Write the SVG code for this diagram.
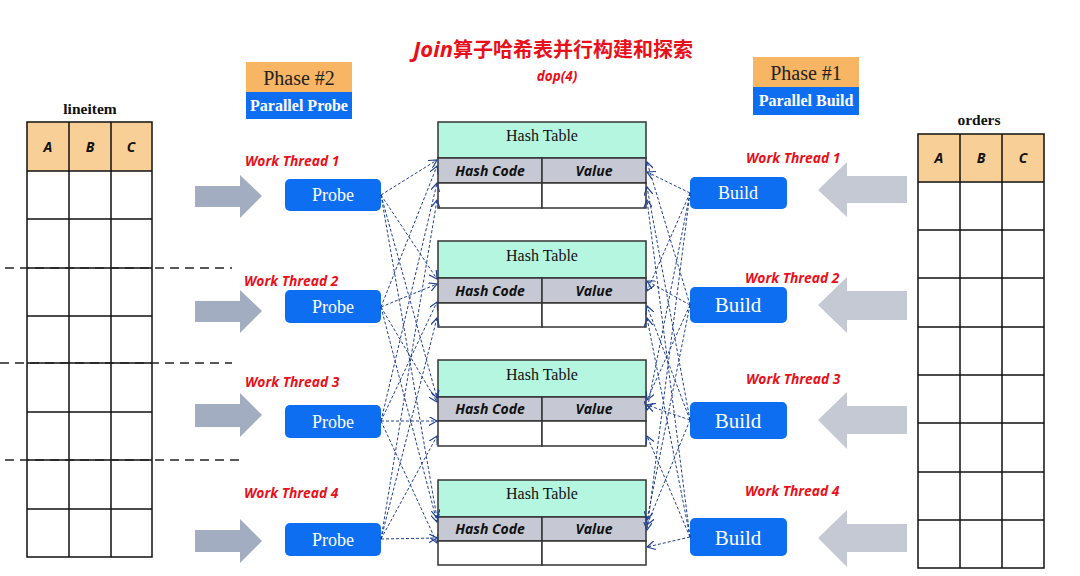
<svg xmlns="http://www.w3.org/2000/svg" width="1080" height="576" viewBox="0 0 1080 576">
<defs>
<marker id="ah" viewBox="0 0 10 10" refX="9" refY="5" markerWidth="9" markerHeight="9" markerUnits="userSpaceOnUse" orient="auto">
<path d="M0,0 L9,5 L0,10" fill="none" stroke="#1f3f8f" stroke-width="1.3"/>
</marker>
</defs>
<style>
.red{fill:#e8101a;font-family:"Open Sans","DejaVu Sans",sans-serif;font-style:italic;font-weight:bold}
.wt{font-size:13.8px}
.ser{font-family:"Liberation Serif","Times New Roman",serif}
.grid{fill:none;stroke:#111;stroke-width:1.5}
.hdr{fill:#f9cf98}
.abc{font-family:"Open Sans","DejaVu Sans",sans-serif;font-style:italic;font-weight:bold;font-size:14px;fill:#111;text-anchor:middle}
.btn{fill:#0d6ef2}
.btxt{fill:#fff;text-anchor:middle;font-family:"Liberation Serif",serif}
.ht-h{fill:#b5f6e1;stroke:#333;stroke-width:1.5}
.ht-g{fill:#c6c9d4;stroke:#333;stroke-width:1.5}
.ht-w{fill:#fff;stroke:#333;stroke-width:1.5}
.htt{font-family:"Liberation Serif",serif;font-size:16px;fill:#111;text-anchor:middle}
.hc{font-family:"Open Sans","DejaVu Sans",sans-serif;font-style:italic;font-weight:bold;font-size:14px;fill:#111;text-anchor:middle}
.conn line{stroke:#1f3f8f;stroke-width:1;stroke-dasharray:3,2;marker-end:url(#ah)}
.dash{stroke:#222;stroke-width:1.5;stroke-dasharray:9,6}
.larr{fill:#a3adc1}
.rarr{fill:#c4c9d4}
</style>
<rect width="1080" height="576" fill="#fff"/>

<g id="title">
<text x="553" y="57" text-anchor="middle" font-size="20" fill="#e8101a" font-weight="bold" font-family="'Noto Sans CJK SC',sans-serif"><tspan font-style="italic" font-size="22" font-family="'Open Sans','Noto Sans CJK SC',sans-serif">Join</tspan>算子哈希表并行构建和探索</text>
<text x="557" y="81" text-anchor="middle" class="red" font-size="13.5">dop(4)</text>
</g>

<g id="phase2">
<rect x="246" y="62" width="106" height="30" fill="#f8b563"/>
<rect x="246" y="92" width="106" height="27" fill="#0d6ef2"/>
<text x="299" y="85" text-anchor="middle" class="ser" font-size="20" fill="#222">Phase #2</text>
<text x="299" y="111" text-anchor="middle" class="ser" font-size="16" font-weight="bold" fill="#fff">Parallel Probe</text>
</g>
<g id="phase1">
<rect x="753" y="57" width="106" height="30" fill="#f8b563"/>
<rect x="753" y="87" width="106" height="28" fill="#0d6ef2"/>
<text x="806" y="80" text-anchor="middle" class="ser" font-size="20" fill="#222">Phase #1</text>
<text x="806" y="106" text-anchor="middle" class="ser" font-size="16" font-weight="bold" fill="#fff">Parallel Build</text>
</g>

<g id="lineitem">
<text x="90" y="114" text-anchor="middle" class="ser" font-size="15.5" font-weight="bold" fill="#111">lineitem</text>
<rect x="27" y="122" width="125" height="49" class="hdr"/>
<path class="grid" d="M27,122 H152 V557 H27 Z M69,122 V557 M111,122 V557 M27,171 H152 M27,219 H152 M27,268 H152 M27,316 H152 M27,363 H152 M27,412 H152 M27,460 H152 M27,509 H152"/>
<text x="48" y="152" class="abc">A</text>
<text x="90" y="152" class="abc">B</text>
<text x="131" y="152" class="abc">C</text>
<line x1="5" y1="268" x2="232" y2="268" class="dash"/>
<line x1="0" y1="363" x2="232" y2="363" class="dash"/>
<line x1="5" y1="460" x2="240" y2="460" class="dash"/>
</g>

<g id="orders">
<text x="979" y="125" text-anchor="middle" class="ser" font-size="15.5" font-weight="bold" fill="#111">orders</text>
<rect x="918" y="134" width="126" height="48" class="hdr"/>
<path class="grid" d="M918,134 H1044 V568 H918 Z M960,134 V568 M1002,134 V568 M918,182 H1044 M918,230 H1044 M918,278 H1044 M918,327 H1044 M918,375 H1044 M918,423 H1044 M918,472 H1044 M918,520 H1044"/>
<text x="939" y="163" class="abc">A</text>
<text x="981" y="163" class="abc">B</text>
<text x="1023" y="163" class="abc">C</text>
</g>

<g id="left-arrows">
<polygon class="larr" points="195,186 240,186 240,175 262,196 240,218 240,207 195,207"/>
<polygon class="larr" points="195,301 240,301 240,290 262,311 240,333 240,322 195,322"/>
<polygon class="larr" points="195,404 240,404 240,393 262,415 240,437 240,427 195,427"/>
<polygon class="larr" points="195,530 240,530 240,519 262,541 240,563 240,552 195,552"/>
</g>
<g id="right-arrows">
<polygon class="rarr" points="907,176 847,176 847,162 818,190 847,217 847,203 907,203"/>
<polygon class="rarr" points="907,291 847,291 847,277 818,305 847,333 847,320 907,320"/>
<polygon class="rarr" points="907,406 847,406 847,392 818,420 847,449 847,434 907,434"/>
<polygon class="rarr" points="907,524 847,524 847,510 818,538 847,567 847,552 907,552"/>
</g>

<g id="probe-labels">
<text x="245" y="166" class="red wt">Work Thread 1</text>
<text x="244" y="286" class="red wt">Work Thread 2</text>
<text x="245" y="387" class="red wt">Work Thread 3</text>
<text x="244" y="498" class="red wt">Work Thread 4</text>
</g>
<g id="build-labels">
<text x="746" y="163" class="red wt">Work Thread 1</text>
<text x="745" y="283" class="red wt">Work Thread 2</text>
<text x="746" y="384" class="red wt">Work Thread 3</text>
<text x="745" y="496" class="red wt">Work Thread 4</text>
</g>

<g id="probe1"><rect x="285" y="179" width="96" height="32" rx="5" class="btn"/><text x="333" y="201" class="btxt" font-size="18">Probe</text></g>
<g id="probe2"><rect x="285" y="290" width="96" height="33" rx="5" class="btn"/><text x="333" y="313" class="btxt" font-size="18">Probe</text></g>
<g id="probe3"><rect x="285" y="405" width="96" height="33" rx="5" class="btn"/><text x="333" y="428" class="btxt" font-size="18">Probe</text></g>
<g id="probe4"><rect x="285" y="523" width="96" height="33" rx="5" class="btn"/><text x="333" y="546" class="btxt" font-size="18">Probe</text></g>

<g id="build1"><rect x="690" y="177" width="97" height="32" rx="5" class="btn"/><text x="738" y="199" class="btxt" font-size="18">Build</text></g>
<g id="build2"><rect x="690" y="287" width="97" height="36" rx="5" class="btn"/><text x="738" y="312" class="btxt" font-size="21">Build</text></g>
<g id="build3"><rect x="690" y="402" width="97" height="37" rx="5" class="btn"/><text x="738" y="428" class="btxt" font-size="21">Build</text></g>
<g id="build4"><rect x="690" y="518" width="97" height="38" rx="5" class="btn"/><text x="738" y="545" class="btxt" font-size="21">Build</text></g>

<g id="hashtable1">
<rect x="438" y="122" width="208" height="36" class="ht-h"/>
<rect x="438" y="158" width="104" height="25" class="ht-g"/><rect x="542" y="158" width="104" height="25" class="ht-g"/>
<rect x="438" y="183" width="104" height="25" class="ht-w"/><rect x="542" y="183" width="104" height="25" class="ht-w"/>
<text x="542" y="141" class="htt">Hash Table</text>
<text x="490" y="176" class="hc">Hash Code</text><text x="594" y="176" class="hc">Value</text>
</g>
<g id="hashtable2">
<rect x="438" y="241" width="208" height="37" class="ht-h"/>
<rect x="438" y="278" width="104" height="25" class="ht-g"/><rect x="542" y="278" width="104" height="25" class="ht-g"/>
<rect x="438" y="303" width="104" height="24" class="ht-w"/><rect x="542" y="303" width="104" height="24" class="ht-w"/>
<text x="542" y="261" class="htt">Hash Table</text>
<text x="490" y="296" class="hc">Hash Code</text><text x="594" y="296" class="hc">Value</text>
</g>
<g id="hashtable3">
<rect x="438" y="360" width="208" height="37" class="ht-h"/>
<rect x="438" y="397" width="104" height="24" class="ht-g"/><rect x="542" y="397" width="104" height="24" class="ht-g"/>
<rect x="438" y="421" width="104" height="25" class="ht-w"/><rect x="542" y="421" width="104" height="25" class="ht-w"/>
<text x="542" y="380" class="htt">Hash Table</text>
<text x="490" y="414" class="hc">Hash Code</text><text x="594" y="414" class="hc">Value</text>
</g>
<g id="hashtable4">
<rect x="438" y="480" width="208" height="37" class="ht-h"/>
<rect x="438" y="517" width="104" height="24" class="ht-g"/><rect x="542" y="517" width="104" height="24" class="ht-g"/>
<rect x="438" y="541" width="104" height="24" class="ht-w"/><rect x="542" y="541" width="104" height="24" class="ht-w"/>
<text x="542" y="499" class="htt">Hash Table</text>
<text x="490" y="534" class="hc">Hash Code</text><text x="594" y="534" class="hc">Value</text>
</g>

<g id="connectors" class="conn">
<line x1="381" y1="195" x2="437" y2="160"/>
<line x1="381" y1="195" x2="437" y2="279"/>
<line x1="381" y1="195" x2="437" y2="398"/>
<line x1="381" y1="195" x2="437" y2="518"/>
<line x1="381" y1="307" x2="437" y2="166"/>
<line x1="381" y1="307" x2="437" y2="284"/>
<line x1="381" y1="307" x2="437" y2="402"/>
<line x1="381" y1="307" x2="437" y2="522"/>
<line x1="381" y1="421" x2="437" y2="183"/>
<line x1="381" y1="421" x2="437" y2="302"/>
<line x1="381" y1="421" x2="437" y2="421"/>
<line x1="381" y1="421" x2="437" y2="543"/>
<line x1="381" y1="539" x2="437" y2="200"/>
<line x1="381" y1="539" x2="437" y2="318"/>
<line x1="381" y1="539" x2="437" y2="436"/>
<line x1="381" y1="539" x2="437" y2="538"/>
<line x1="690" y1="193" x2="647" y2="172"/>
<line x1="690" y1="193" x2="647" y2="291"/>
<line x1="690" y1="193" x2="647" y2="410"/>
<line x1="690" y1="193" x2="647" y2="530"/>
<line x1="690" y1="305" x2="647" y2="162"/>
<line x1="690" y1="305" x2="647" y2="281"/>
<line x1="690" y1="305" x2="647" y2="400"/>
<line x1="690" y1="305" x2="647" y2="520"/>
<line x1="690" y1="420" x2="647" y2="187"/>
<line x1="690" y1="420" x2="647" y2="306"/>
<line x1="690" y1="420" x2="647" y2="405"/>
<line x1="690" y1="420" x2="647" y2="525"/>
<line x1="690" y1="537" x2="647" y2="200"/>
<line x1="690" y1="537" x2="647" y2="318"/>
<line x1="690" y1="537" x2="647" y2="436"/>
<line x1="690" y1="537" x2="647" y2="547"/>
</g>
</svg>
